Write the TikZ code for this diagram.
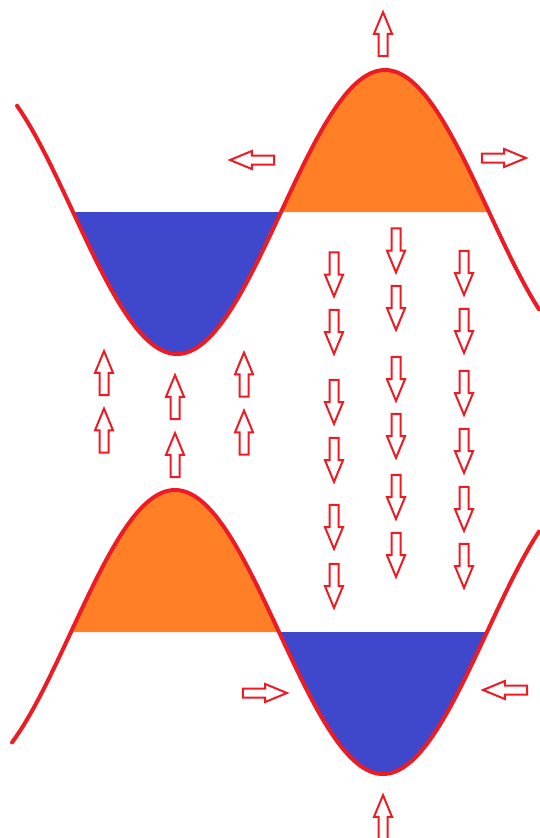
\documentclass[tikz,border=0pt]{standalone}
\usetikzlibrary{shapes.arrows}
\definecolor{paintred}{HTML}{ED1C24}
\definecolor{paintblue}{HTML}{3F48CC}
\definecolor{paintorange}{HTML}{FF7F27}

\begin{document}
\begin{tikzpicture}[x=1pt, y=-1pt,
    declare function={topy(\t)=212+142*cos(0.8653846*(\t-177)); lowy(\t)=632-142*cos(0.8653846*(\t-175));},
    wave/.style={draw=paintred, line width=4pt, line cap=round},
    push/.style={single arrow, draw=paintred, fill=white, line width=2pt, inner sep=3.5pt, minimum height=44pt, minimum width=16pt, single arrow head extend=4.5pt, single arrow tip angle=45},
    pushup/.style={push, shape border rotate=90, yshift=-6pt},
    pushdown/.style={push, shape border rotate=270, yshift=6pt},
    pushleft/.style={push, shape border rotate=180, xshift=6pt},
    pushright/.style={push, xshift=-6pt}
]
    \useasboundingbox (0,0) rectangle (539,838);

    % filled parts of the two waves
    \fill[paintblue] plot[domain=73:281, samples=80] (\x,{topy(\x)}) -- cycle;
    \fill[paintorange] plot[domain=281:489, samples=80] (\x,{topy(\x)}) -- cycle;
    \fill[paintorange] plot[domain=71:279, samples=80] (\x,{lowy(\x)}) -- cycle;
    \fill[paintblue] plot[domain=279:487, samples=80] (\x,{lowy(\x)}) -- cycle;

    % the waves
    \draw[wave] plot[domain=17:539, samples=200] (\x,{topy(\x)});
    \draw[wave] plot[domain=12:539, samples=200] (\x,{lowy(\x)});

    % arrows round the waves
    \node[pushup] (crest) at (383,33.5) {};
    \node[pushleft] (crestl) at (251.5,160) {};
    \node[pushright] (crestr) at (504.5,158) {};
    \node[pushright] (troughl) at (265.5,693) {};
    \node[pushleft] (troughr) at (504.5,690) {};
    \node[pushup] (trough) at (383,816.5) {};

    % arrows in the gap
    \node[pushup] (ua1) at (104,372.5) {};
    \node[pushup] (ua2) at (104,430) {};
    \node[pushup] (ub1) at (175,396.5) {};
    \node[pushup] (ub2) at (175,454.5) {};
    \node[pushup] (uc1) at (244,374) {};
    \node[pushup] (uc2) at (244,432) {};

    \node[pushdown] (da1) at (334,275) {};
    \node[pushdown] (da2) at (334,332.5) {};
    \node[pushdown] (da3) at (334,402.5) {};
    \node[pushdown] (da4) at (334,460.5) {};
    \node[pushdown] (da5) at (334,527.5) {};
    \node[pushdown] (da6) at (334,586.5) {};

    \node[pushdown] (db1) at (396,251) {};
    \node[pushdown] (db2) at (396,308.5) {};
    \node[pushdown] (db3) at (396,379.5) {};
    \node[pushdown] (db4) at (396,436.5) {};
    \node[pushdown] (db5) at (396,497.5) {};
    \node[pushdown] (db6) at (396,555.5) {};

    \node[pushdown] (dc1) at (464,273.5) {};
    \node[pushdown] (dc2) at (464,331.5) {};
    \node[pushdown] (dc3) at (464,393.5) {};
    \node[pushdown] (dc4) at (464,451.5) {};
    \node[pushdown] (dc5) at (464,509.5) {};
    \node[pushdown] (dc6) at (464,566.5) {};
\end{tikzpicture}
\end{document}
